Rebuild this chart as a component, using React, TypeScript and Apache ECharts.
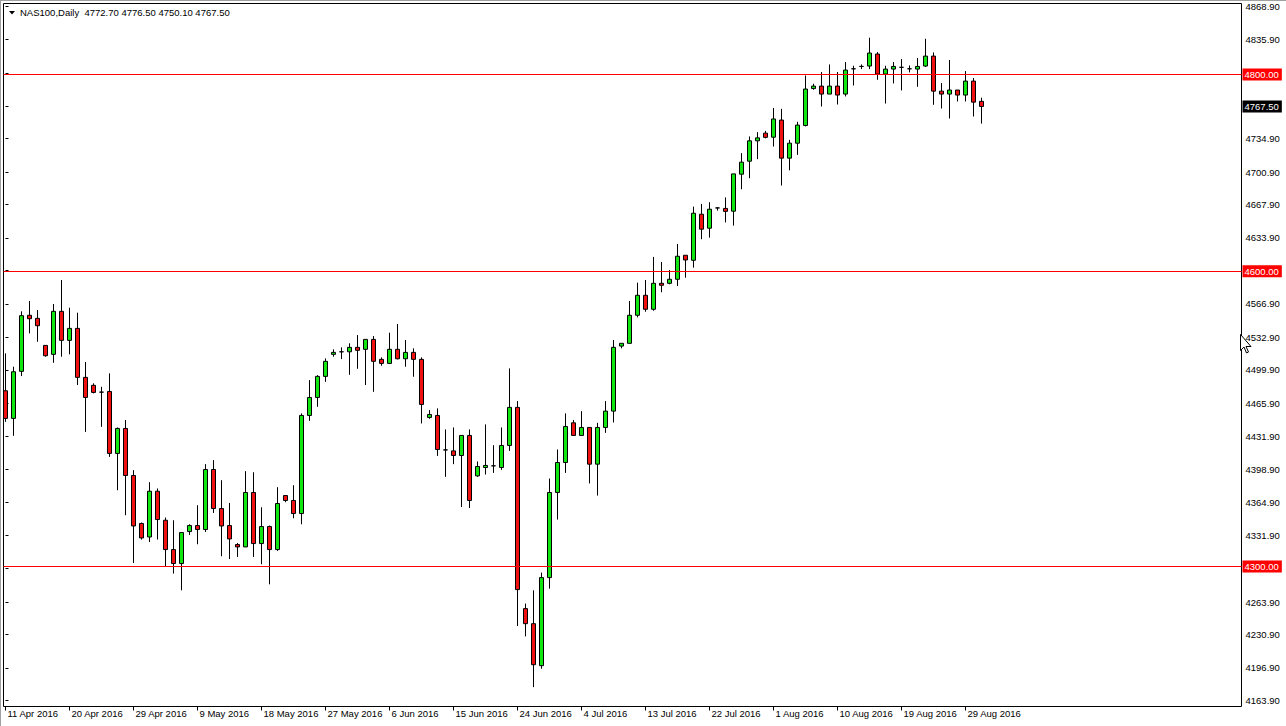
import React, { useEffect, useRef } from "react";
import * as echarts from "echarts";

const symbolName = "NAS100,Daily";

const xTickIndex = [0, 8, 16, 24, 32, 40, 48, 56, 64, 72, 80, 88, 96, 104, 112, 120];
const xTickLabels = [
  "11 Apr 2016", "20 Apr 2016", "29 Apr 2016", "9 May 2016", "18 May 2016", "27 May 2016",
  "6 Jun 2016", "15 Jun 2016", "24 Jun 2016", "4 Jul 2016", "13 Jul 2016", "22 Jul 2016",
  "1 Aug 2016", "10 Aug 2016", "19 Aug 2016", "29 Aug 2016",
];

const yTickValues = [
  4868.9, 4835.9, 4800.9, 4767.9, 4734.9, 4700.9, 4667.9, 4633.9, 4600.9, 4566.9, 4532.9,
  4499.9, 4465.9, 4431.9, 4398.9, 4364.9, 4331.9, 4297.9, 4263.9, 4230.9, 4196.9, 4163.9,
];
const yLabelValues = [
  4868.9, 4835.9, 4734.9, 4700.9, 4667.9, 4633.9, 4566.9, 4532.9, 4499.9, 4465.9,
  4431.9, 4398.9, 4364.9, 4331.9, 4263.9, 4230.9, 4196.9, 4163.9,
];

const levels = [4800, 4600, 4300];
const currentPrice = 4767.5;

const opens = [
  4478.6, 4450.5, 4498.3, 4555.3, 4552.2, 4524.7, 4515.6, 4559.3, 4529.8, 4542.0,
  4492.2, 4484.1, 4477.2, 4477.9, 4414.9, 4440.3, 4392.5, 4343.7, 4330.0, 4376.5,
  4347.0, 4317.2, 4303.0, 4335.5, 4341.6, 4337.6, 4398.6, 4358.9, 4341.6, 4322.3,
  4319.9, 4375.2, 4323.3, 4340.6, 4317.2, 4372.1, 4367.1, 4353.8, 4453.5, 4471.8,
  4493.2, 4515.6, 4518.2, 4518.2, 4522.7, 4520.7, 4530.8, 4510.5, 4506.4, 4520.7,
  4511.1, 4517.6, 4510.5, 4451.5, 4453.5, 4418.5, 4417.5, 4412.8, 4433.2, 4392.1,
  4400.6, 4402.3, 4400.6, 4423.0, 4461.7, 4257.2, 4241.9, 4199.2, 4288.7, 4375.2,
  4405.7, 4446.0, 4433.2, 4441.3, 4404.0, 4441.3, 4457.9, 4524.0, 4526.8, 4555.3,
  4575.6, 4561.4, 4587.8, 4587.8, 4591.9, 4616.3, 4611.2, 4658.0, 4643.8, 4664.4,
  4663.9, 4661.1, 4698.7, 4711.9, 4732.6, 4740.4, 4736.3, 4753.7, 4715.0, 4730.2,
  4748.2, 4785.7, 4788.2, 4780.1, 4788.2, 4780.1, 4805.8, 4808.2, 4808.6, 4820.8,
  4800.4, 4805.5, 4807.3, 4805.8, 4805.5, 4808.6, 4818.7, 4783.1, 4780.1, 4784.2,
  4779.1, 4793.3, 4772.7,
];

const closes = [
  4450.5, 4497.9, 4554.9, 4551.8, 4544.7, 4514.2, 4559.3, 4529.8, 4542.0, 4492.2,
  4471.8, 4476.9, 4477.2, 4414.9, 4440.3, 4392.5, 4341.2, 4329.0, 4376.5, 4347.7,
  4317.2, 4303.0, 4334.5, 4341.6, 4337.6, 4398.6, 4358.9, 4341.2, 4328.0, 4319.9,
  4375.2, 4323.3, 4340.6, 4317.2, 4364.0, 4367.1, 4353.8, 4453.5, 4471.8, 4493.2,
  4508.5, 4517.6, 4518.2, 4522.7, 4519.7, 4530.8, 4508.5, 4506.4, 4520.7, 4511.1,
  4517.6, 4510.5, 4464.7, 4454.5, 4418.9, 4418.5, 4412.8, 4433.2, 4367.1, 4401.6,
  4402.7, 4402.3, 4423.0, 4461.7, 4276.5, 4241.9, 4200.2, 4288.7, 4375.2, 4405.7,
  4442.3, 4433.2, 4441.3, 4404.0, 4441.3, 4457.9, 4522.7, 4526.8, 4555.3, 4575.6,
  4561.4, 4587.8, 4585.8, 4591.9, 4615.3, 4611.5, 4659.0, 4642.8, 4663.1, 4664.4,
  4660.9, 4699.0, 4710.9, 4732.6, 4735.6, 4736.1, 4754.8, 4715.0, 4730.2, 4748.6,
  4785.2, 4788.2, 4780.1, 4788.2, 4779.1, 4804.5, 4805.8, 4808.2, 4821.8, 4800.4,
  4805.5, 4808.2, 4807.3, 4805.8, 4808.2, 4818.7, 4783.1, 4780.1, 4784.2, 4779.1,
  4793.3, 4771.9, 4767.5,
];

const lows = [
  4447.0, 4432.8, 4493.5, 4536.9, 4528.4, 4513.2, 4507.0, 4513.2, 4515.6, 4484.4,
  4436.8, 4475.9, 4441.9, 4411.4, 4377.5, 4352.1, 4303.6, 4327.4, 4324.9, 4327.4,
  4300.2, 4292.8, 4275.8, 4332.1, 4322.6, 4335.1, 4354.4, 4310.4, 4307.6, 4309.7,
  4319.9, 4309.7, 4302.3, 4281.9, 4315.8, 4365.3, 4349.0, 4342.9, 4448.0, 4462.3,
  4487.7, 4513.2, 4510.8, 4494.8, 4500.9, 4484.4, 4477.5, 4504.0, 4505.7, 4510.5,
  4503.0, 4492.8, 4445.4, 4450.1, 4412.4, 4391.1, 4404.0, 4360.5, 4359.5, 4391.1,
  4393.5, 4395.1, 4398.2, 4417.5, 4239.5, 4229.0, 4177.4, 4196.1, 4277.5, 4347.7,
  4395.1, 4432.8, 4433.2, 4384.4, 4372.1, 4435.8, 4446.4, 4521.7, 4526.8, 4553.2,
  4558.9, 4559.9, 4578.7, 4586.8, 4585.1, 4593.5, 4603.7, 4632.6, 4634.2, 4661.7,
  4649.7, 4646.4, 4683.4, 4694.6, 4714.0, 4735.1, 4726.8, 4687.1, 4702.6, 4718.3,
  4747.2, 4784.5, 4767.5, 4780.1, 4769.5, 4777.7, 4788.8, 4805.5, 4805.5, 4794.6,
  4770.5, 4790.9, 4783.8, 4802.1, 4787.5, 4807.6, 4769.2, 4765.4, 4755.3, 4772.6,
  4772.6, 4757.3, 4750.1,
];

const highs = [
  4516.6, 4503.0, 4559.3, 4569.8, 4560.6, 4524.7, 4566.8, 4591.2, 4563.0, 4557.9,
  4507.8, 4486.1, 4482.6, 4496.3, 4441.3, 4448.8, 4397.9, 4344.7, 4385.7, 4379.3,
  4349.8, 4347.0, 4334.5, 4342.9, 4362.3, 4404.0, 4408.1, 4387.7, 4364.6, 4323.9,
  4396.9, 4395.8, 4360.2, 4341.6, 4380.6, 4372.1, 4382.6, 4455.6, 4489.4, 4494.5,
  4511.5, 4520.7, 4522.7, 4526.8, 4535.2, 4530.8, 4534.2, 4512.5, 4537.6, 4546.4,
  4530.1, 4521.7, 4512.5, 4458.9, 4460.7, 4439.3, 4441.3, 4433.2, 4439.3, 4406.7,
  4444.4, 4423.3, 4441.3, 4501.3, 4468.1, 4262.3, 4275.8, 4293.8, 4389.4, 4418.9,
  4455.6, 4448.8, 4457.9, 4441.3, 4446.0, 4468.1, 4530.1, 4526.8, 4569.8, 4588.4,
  4591.2, 4614.6, 4609.5, 4601.3, 4627.8, 4616.3, 4665.7, 4668.5, 4670.2, 4665.1,
  4675.1, 4699.0, 4720.1, 4737.0, 4741.4, 4742.7, 4766.0, 4765.1, 4733.6, 4751.9,
  4799.0, 4790.6, 4802.5, 4810.2, 4802.5, 4812.6, 4808.9, 4810.2, 4837.4, 4822.8,
  4808.9, 4812.6, 4815.7, 4809.2, 4816.7, 4836.3, 4822.4, 4791.3, 4814.7, 4784.2,
  4803.5, 4796.4, 4776.5,
];

export default function App() {
  const ref = useRef<HTMLDivElement>(null);

  useEffect(() => {
    if (!ref.current) return;
    const chart = echarts.init(ref.current, null, { renderer: "svg" });
    const font = "Liberation Sans";
    const data = opens.map((o, i) => [i, o, closes[i], lows[i], highs[i]]);
    const last = opens.length - 1;
    const header =
      `${symbolName}  ${opens[last].toFixed(2)} ${highs[last].toFixed(2)} ` +
      `${lows[last].toFixed(2)} ${closes[last].toFixed(2)}`;

    chart.setOption({
      animation: false,
      backgroundColor: "#ffffff",
      grid: {
        left: 3.5,
        right: 44.5,
        top: 3.5,
        bottom: 19.5,
        show: true,
        borderColor: "#000000",
        borderWidth: 1,
        backgroundColor: "transparent",
      },
      xAxis: {
        type: "value",
        min: -0.25,
        max: 154.5,
        splitLine: { show: false },
        axisLine: { show: false },
        axisTick: {
          show: true,
          customValues: xTickIndex,
          length: 4,
          lineStyle: { color: "#000000" },
        },
        axisLabel: {
          customValues: xTickIndex,
          formatter: (v: number) => {
            const k = xTickIndex.indexOf(Math.round(v));
            return k >= 0 ? xTickLabels[k] : "";
          },
          align: "left",
          margin: 2,
          padding: [0, 0, 0, 2],
          fontSize: 9.5,
          fontFamily: font,
          color: "#000000",
        },
      },
      yAxis: {
        type: "value",
        position: "right",
        min: 4157.72,
        max: 4872.15,
        splitLine: { show: false },
        axisLine: { show: false },
        axisTick: {
          show: true,
          customValues: yTickValues,
          length: 3,
          lineStyle: { color: "#000000" },
        },
        axisLabel: {
          customValues: yLabelValues,
          formatter: (v: number) => v.toFixed(2),
          margin: 4,
          fontSize: 9.5,
          fontFamily: font,
          color: "#000000",
        },
      },
      series: [
        {
          type: "candlestick",
          data,
          encode: { x: 0, y: [1, 2, 3, 4] },
          barWidth: 4,
          itemStyle: {
            color: "#11e611",
            color0: "#f01010",
            borderColor: "#000000",
            borderColor0: "#000000",
            borderColorDoji: "#000000",
            borderWidth: 1,
          },
          emphasis: { disabled: true },
          markLine: {
            silent: true,
            symbol: ["none", "none"],
            animation: false,
            lineStyle: { color: "#ff0000", width: 1, type: "solid" },
            label: {
              show: true,
              position: "end",
              distance: 1,
              formatter: (p: any) => Number(p.value).toFixed(2),
              color: "#ffffff",
              backgroundColor: "#ff0000",
              padding: [1, 3, 0, 2],
              lineHeight: 11,
              fontSize: 9.5,
              fontFamily: font,
            },
            emphasis: { disabled: true },
            data: [
              ...levels.map((v) => ({ yAxis: v })),
              {
                yAxis: currentPrice,
                lineStyle: { color: "rgba(0,0,0,0)" },
                label: { backgroundColor: "#000000" },
              },
            ],
          },
        },
      ],
      graphic: [
        {
          type: "line",
          shape: { x1: 0, y1: 0.5, x2: 1286, y2: 0.5 },
          style: { stroke: "#a0a0a0", lineWidth: 1 },
        },
        {
          type: "line",
          shape: { x1: 0.5, y1: 0, x2: 0.5, y2: 726 },
          style: { stroke: "#a0a0a0", lineWidth: 1 },
        },
        {
          type: "polygon",
          shape: { points: [[9, 11], [15, 11], [12, 14.5]] },
          style: { fill: "#000000" },
        },
        {
          type: "text",
          x: 20,
          y: 12,
          style: {
            text: header,
            fill: "#000000",
            fontSize: 9.5,
            fontFamily: font,
            verticalAlign: "middle",
          },
        },
        {
          type: "polygon",
          z: 100,
          shape: {
            points: [
              [1240.5, 334.5], [1240.5, 350.5], [1244, 347], [1246.5, 353], [1248.5, 352],
              [1246, 346.5], [1251, 346.5],
            ],
          },
          style: { fill: "#ffffff", stroke: "#000000", lineWidth: 1 },
        },
      ],
    });

    return () => chart.dispose();
  }, []);

  return (
    <div
      ref={ref}
      style={{ position: "fixed", left: 0, top: 0, width: 1286, height: 726 }}
    />
  );
}
